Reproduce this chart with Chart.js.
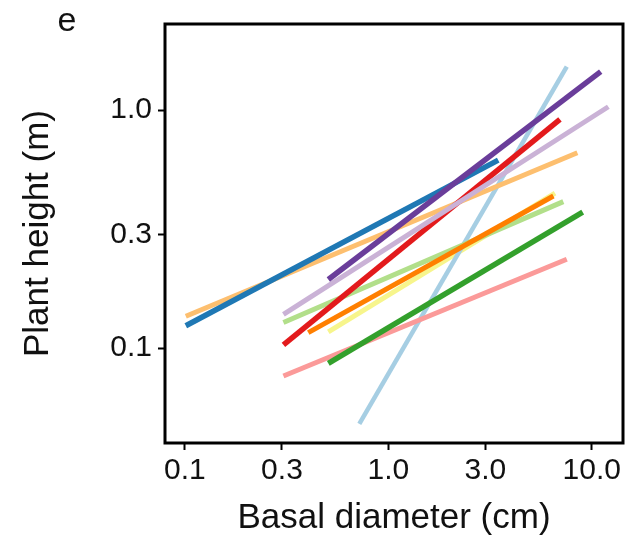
<!DOCTYPE html>
<html><head><meta charset="utf-8">
<script src="https://cdn.jsdelivr.net/npm/chart.js@4/dist/chart.umd.min.js"></script>
<style>html,body{margin:0;padding:0;background:#fff;overflow:hidden}#wrap{width:626px;height:542px;position:relative}</style>
</head><body><div id="wrap"><canvas id="c" width="626" height="542"></canvas></div>
<script>
// ---- data ----
const panelLabel = 'e';
const xTitle = 'Basal diameter (cm)';
const yTitle = 'Plant height (m)';
const xTickValues = [0.1, 0.3, 1, 3, 10];
const xTickLabels = ['0.1', '0.3', '1.0', '3.0', '10.0'];
const yTickValues = [0.1, 0.3, 1];
const yTickLabels = ['0.1', '0.3', '1.0'];

// each series: fitted line endpoints [start, end] in data units (log-log)
const lightBlue   = [{x: 0.72,  y: 0.048}, {x: 7.54,  y: 1.52}];
const darkBlue    = [{x: 0.101, y: 0.124}, {x: 3.47,  y: 0.616}];
const lightGreen  = [{x: 0.305, y: 0.128}, {x: 7.25,  y: 0.412}];
const darkGreen   = [{x: 0.507, y: 0.0862},{x: 9.03,  y: 0.372}];
const pink        = [{x: 0.305, y: 0.0763},{x: 7.54,  y: 0.236}];
const red         = [{x: 0.305, y: 0.103}, {x: 6.98,  y: 0.914}];
const lightOrange = [{x: 0.101, y: 0.136}, {x: 8.50,  y: 0.661}];
const orange      = [{x: 0.404, y: 0.116}, {x: 6.48,  y: 0.435}];
const lightPurple = [{x: 0.305, y: 0.1386},{x: 12.07, y: 1.032}];
const purple      = [{x: 0.507, y: 0.194}, {x: 11.07, y: 1.449}];
const yellow      = [{x: 0.507, y: 0.117}, {x: 6.60,  y: 0.447}];

const seriesData   = [lightBlue, darkBlue, lightGreen, darkGreen, pink, red, lightOrange, orange, lightPurple, purple, yellow];
const seriesColors = ['#a6cee3', '#1f78b4', '#b2df8a', '#33a02c', '#fb9a99', '#e31a1c', '#fdbf6f', '#ff7f00', '#cab2d6', '#6a3d9a', '#f7f58c'];
const seriesWidths = [4.5, 5.5, 5, 5.5, 5, 5.5, 5, 5, 5, 5.5, 5];
const seriesOrder  = [9, 3, 8, 6, 7, 4, 5, 2, 1, 0, 10];

const FONT = "'Liberation Sans', Arial, Helvetica, sans-serif";
const TXT = '#111';

const frame = {
  id: 'frame',
  afterDatasetsDraw(chart) {
    const a = chart.chartArea, ctx = chart.ctx;
    ctx.save();
    ctx.strokeStyle = '#000';
    ctx.lineWidth = 3;
    ctx.strokeRect(a.left, a.top, a.right - a.left, a.bottom - a.top);
    ctx.restore();
  },
  afterDraw(chart) {
    const ctx = chart.ctx;
    ctx.save();
    ctx.fillStyle = TXT;
    ctx.font = '34px ' + FONT;
    ctx.textAlign = 'center';
    ctx.textBaseline = 'middle';
    ctx.fillText(panelLabel, 67, 22);
    ctx.restore();
  }
};

function setTicks(values) {
  return function (scale) { scale.ticks = values.map(v => ({value: v})); };
}

new Chart(document.getElementById('c'), {
  type: 'scatter',
  data: {
    datasets: seriesData.map((d, i) => ({
      data: d,
      showLine: true,
      borderColor: seriesColors[i],
      backgroundColor: seriesColors[i],
      borderWidth: seriesWidths[i],
      borderCapStyle: 'butt',
      pointRadius: 0,
      pointHoverRadius: 0,
      order: seriesOrder[i]
    }))
  },
  options: {
    responsive: false,
    animation: false,
    devicePixelRatio: 1,
    layout: {padding: {left: 0, right: 3, top: 24, bottom: 0}},
    plugins: {legend: {display: false}, tooltip: {enabled: false}},
    scales: {
      x: {
        type: 'logarithmic',
        position: 'bottom',
        bounds: 'data',
        min: 0.0798,
        max: 14.25,
        afterBuildTicks: setTicks(xTickValues),
        afterFit(s) { s.height = 99; s.paddingLeft = 0; s.paddingRight = 0; },
        grid: {display: true, drawOnChartArea: false, drawTicks: true, tickLength: 7, tickWidth: 2, tickColor: '#000'},
        border: {display: false},
        ticks: {
          autoSkip: false, maxRotation: 0, padding: 3, color: TXT,
          font: {family: FONT, size: 30},
          callback: (v) => { const i = xTickValues.indexOf(v); return i >= 0 ? xTickLabels[i] : ''; }
        },
        title: {display: true, text: xTitle, color: TXT, font: {family: FONT, size: 35}, padding: {top: 0, bottom: 3}}
      },
      y: {
        type: 'logarithmic',
        position: 'left',
        bounds: 'data',
        min: 0.0399,
        max: 2.298,
        afterBuildTicks: setTicks(yTickValues),
        afterFit(s) { s.width = 165; s.paddingTop = 0; s.paddingBottom = 0; },
        grid: {display: true, drawOnChartArea: false, drawTicks: true, tickLength: 7, tickWidth: 2, tickColor: '#000'},
        border: {display: false},
        ticks: {
          autoSkip: false, padding: 6, color: TXT,
          font: {family: FONT, size: 30},
          callback: (v) => { const i = yTickValues.indexOf(v); return i >= 0 ? yTickLabels[i] : ''; }
        },
        title: {display: true, text: yTitle, color: TXT, font: {family: FONT, size: 35}, padding: {top: 17, bottom: 0}}
      }
    }
  },
  plugins: [frame]
});
</script>
</body></html>
